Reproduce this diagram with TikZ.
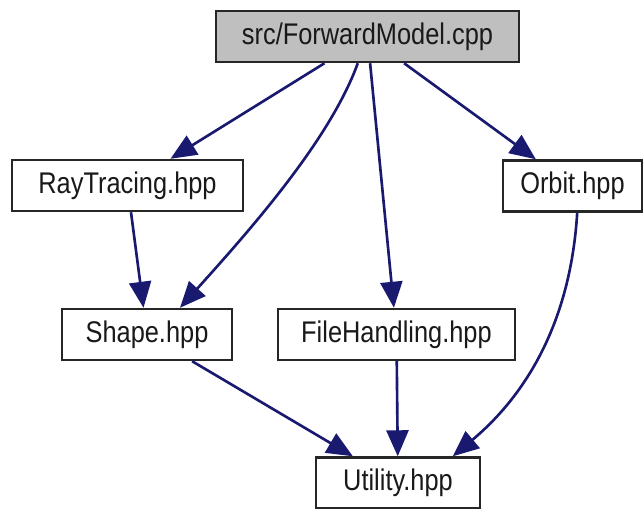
\documentclass[tikz,border=0pt]{standalone}
\usepackage{fontspec}
\setmainfont{Liberation Sans}[FakeStretch=0.85]
\usetikzlibrary{arrows.meta}
\definecolor{edgeblue}{RGB}{25,25,112}
\definecolor{rootgray}{RGB}{191,191,191}

\tikzset{
  filebox/.style={draw=black!85, line width=1.4pt, fill=white, inner sep=0pt,
    minimum height=1.02cm, text=black!90, font=\fontsize{17}{20}\selectfont},
  dep/.style={draw=edgeblue, line width=1.5pt,
    -{Triangle[length=0.52cm,width=0.44cm]}}
}

\begin{document}
\begin{tikzpicture}[x=0.02cm,y=-0.02cm]
\useasboundingbox (0,0) rectangle (643,508);

\node[filebox, fill=rootgray, minimum width=6.06cm] (fwd) at (367.5,36.5) {src/ForwardModel.cpp};
\node[filebox, minimum width=4.62cm] (ray) at (127.5,185.5) {RayTracing.hpp};
\node[filebox, minimum width=2.78cm] (orbit) at (572.5,186) {Orbit.hpp};
\node[filebox, minimum width=3.40cm] (shape) at (147,334.5) {Shape.hpp};
\node[filebox, minimum width=4.74cm] (file) at (396.5,334.5) {FileHandling.hpp};
\node[filebox, minimum width=3.28cm] (util) at (398,483) {Utility.hpp};

\draw[dep] (fwd) -- (ray);
\draw[dep] (fwd.250) .. controls (330,140) and (250,230) .. (shape.39);
\draw[dep] (fwd) -- (file);
\draw[dep] (fwd) -- (orbit);
\draw[dep] (ray) -- (shape);
\draw[dep] (shape) -- (util);
\draw[dep] (file) -- (util);
\draw[dep] (orbit.280) .. controls (570,330) and (520,400) .. (util.26);
\end{tikzpicture}
\end{document}
